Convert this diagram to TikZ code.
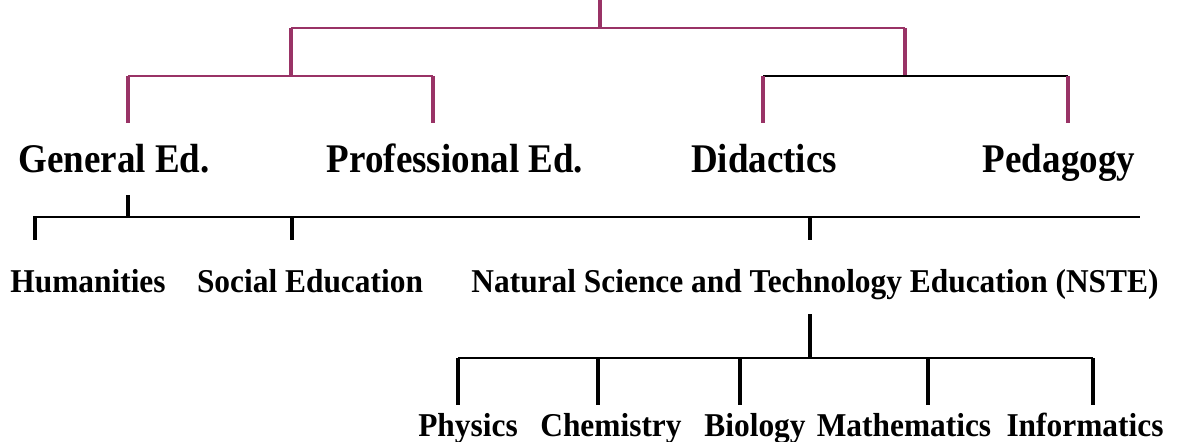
\documentclass[tikz,border=0pt]{standalone}
\usepackage{fontspec}
\setmainfont{Liberation Serif}
\definecolor{plum}{RGB}{153,51,102}
\begin{document}
\begin{tikzpicture}[x=0.5pt,y=-0.5pt,
  bar/.style={line width=1pt},
  stem/.style={line width=2.3pt},
  big/.style={font=\fontsize{18.5}{22}\selectfont\bfseries,anchor=base,inner sep=0pt,yscale=1.1,transform shape},
  small/.style={font=\fontsize{15.7}{19}\selectfont\bfseries,anchor=base,inner sep=0pt,yscale=1.06,transform shape}]
\useasboundingbox (0,0) rectangle (1196,441);
% labels
\node[big] (gen) at (114,172) {General Ed.};
\node[big] (prof) at (455,172) {Professional Ed.};
\node[big] (did) at (764,172) {Didactics};
\node[big] (ped) at (1059,172) {Pedagogy};
\node[small] (hum) at (88,292) {Humanities};
\node[small] (soc) at (310,292) {Social Education};
\node[small] (nste) at (815,292) {Natural Science and Technology Education (NSTE)};
\node[small] (phy) at (468,436) {Physics};
\node[small] (che) at (611,436) {Chemistry};
\node[small] (bio) at (755,436) {Biology};
\node[small] (mat) at (904,436) {Mathematics};
\node[small] (inf) at (1085,436) {Informatics};
% upper tree
\coordinate (root) at (600,0);
\coordinate (split) at (600,28);
\coordinate (lfork) at (291,28);
\coordinate (rfork) at (905,28);
\coordinate (lbar) at (291,76);
\coordinate (rbar) at (905,76);
\coordinate (gen-t) at (128,76);
\coordinate (prof-t) at (433,76);
\coordinate (did-t) at (763,76);
\coordinate (ped-t) at (1068,76);
\coordinate (gen-b) at (128,123);
\coordinate (prof-b) at (433,123);
\coordinate (did-b) at (763,123);
\coordinate (ped-b) at (1068,123);
\draw[plum,stem] (root) -- (split);
\draw[plum,bar] (lfork) -- (rfork);
\draw[plum,stem] (lfork) -- (lbar);
\draw[plum,stem] (rfork) -- (rbar);
\draw[plum,bar] (gen-t) -- (prof-t);
\draw[bar] (did-t) -- (ped-t);
\draw[plum,stem] (gen-t) -- (gen-b);
\draw[plum,stem] (prof-t) -- (prof-b);
\draw[plum,stem] (did-t) -- (did-b);
\draw[plum,stem] (ped-t) -- (ped-b);
% general education branches
\coordinate (gen-s) at (128,195);
\coordinate (line-l) at (33,217);
\coordinate (line-r) at (1140,217);
\coordinate (gen-j) at (128,217);
\draw[stem] (gen-s) -- (gen-j);
\draw[bar] (line-l) -- (line-r);
\draw[stem] (35,217) coordinate (hum-t) -- (35,240) coordinate (hum-b);
\draw[stem] (292,217) coordinate (soc-t) -- (292,240) coordinate (soc-b);
\draw[stem] (810,217) coordinate (nste-t) -- (810,240) coordinate (nste-b);
% NSTE subjects
\coordinate (nste-s) at (810,314);
\coordinate (sub-j) at (810,358);
\coordinate (sub-l) at (458,358);
\coordinate (sub-r) at (1093,358);
\draw[stem] (nste-s) -- (sub-j);
\draw[bar] (sub-l) -- (sub-r);
\foreach \s/\x in {phy/458,che/598,bio/740,mat/928,inf/1093}
  \draw[stem] (\x,358) coordinate (\s-t) -- (\x,405) coordinate (\s-b);
\end{tikzpicture}
\end{document}
